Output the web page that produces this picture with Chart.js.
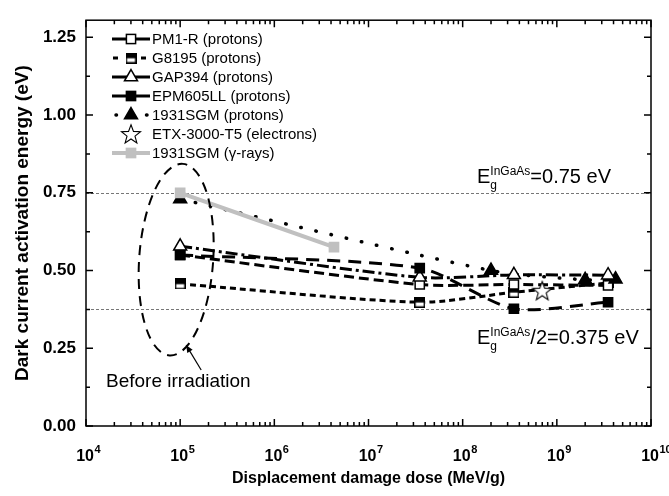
<!DOCTYPE html>
<html><head><meta charset="utf-8">
<script src="https://cdn.jsdelivr.net/npm/chart.js@4/dist/chart.umd.min.js"></script>
<style>html,body{margin:0;padding:0;background:#fff}#wrap{width:669px;height:496px}</style>
</head><body><div id="wrap"><canvas id="c" width="669" height="496"></canvas></div>
<script>
// ---- data ----
const seriesNames = ['PM1-R (protons)','G8195 (protons)','GAP394 (protons)','EPM605LL (protons)','1931SGM (protons)','ETX-3000-T5 (electrons)','1931SGM (\u03b3-rays)'];
const pm1rDose = [1e5, 3.5e7, 3.5e8, 3.5e9];
const pm1rEnergy = [0.55, 0.455, 0.455, 0.452];
const g8195Dose = [1e5, 3.5e7, 3.5e8, 3.5e9];
const g8195Energy = [0.457, 0.398, 0.43, 0.46];
const gap394Dose = [1e5, 3.5e7, 3.5e8, 3.5e9];
const gap394Energy = [0.578, 0.478, 0.486, 0.485];
const epmDose = [1e5, 3.5e7, 3.5e8, 3.5e9];
const epmEnergy = [0.55, 0.508, 0.377, 0.398];
const sgmDose = [1e5, 2e8, 2e9, 4.2e9];
const sgmEnergy = [0.73, 0.50, 0.47, 0.472];
const etxDose = [7e8];
const etxEnergy = [0.435];
const sgmGammaDose = [1e5, 4.3e6];
const sgmGammaEnergy = [0.75, 0.575];
const bandGapLines = [0.75, 0.375];
const yTickValues = [0, 0.25, 0.5, 0.75, 1.0, 1.25];
const xTickExponents = [4, 5, 6, 7, 8, 9, 10];
const xTitle = 'Displacement damage dose (MeV/g)';
const yTitle = 'Dark current activation energy (eV)';

const FONT = '"Liberation Sans", Arial, Helvetica, sans-serif';
const pts = (xs, ys) => xs.map((v, i) => ({x: v, y: ys[i]}));

// custom marker images
function halfSquare() {
  const c = document.createElement('canvas'); c.width = 11; c.height = 11;
  const g = c.getContext('2d');
  g.fillStyle = '#fff'; g.fillRect(0.75, 0.75, 9.5, 9.5);
  g.fillStyle = '#000'; g.fillRect(0.75, 0.75, 9.5, 5);
  g.strokeStyle = '#000'; g.lineWidth = 1.5; g.strokeRect(0.75, 0.75, 9.5, 9.5);
  return c;
}
function openStar() {
  const c = document.createElement('canvas'); c.width = 22; c.height = 22;
  const g = c.getContext('2d');
  g.beginPath();
  for (let k = 0; k < 10; k++) {
    const r = k % 2 ? 4.2 : 10;
    const a = -Math.PI / 2 + k * Math.PI / 5;
    const px = 11 + r * Math.cos(a), py = 11.8 + r * Math.sin(a);
    k ? g.lineTo(px, py) : g.moveTo(px, py);
  }
  g.closePath(); g.fillStyle = '#fff'; g.fill();
  g.strokeStyle = '#000'; g.lineWidth = 1.1; g.stroke();
  return c;
}
const halfSqImg = halfSquare();
const starImg = openStar();

const styles = [
  {pointStyle: 'rect', fill: '#fff', radius: 6.5, dash: [10, 5], legendDash: [], width: 3, color: '#000', order: 5},
  {pointStyle: halfSqImg, fill: '#000', radius: 6, dash: [6, 4], legendDash: [5, 9], width: 3, color: '#000', order: 6},
  {pointStyle: 'triangle', fill: '#fff', radius: 7.5, dash: [12, 4, 3, 4], legendDash: [], width: 3, color: '#000', order: 3},
  {pointStyle: 'rect', fill: '#000', radius: 6.5, dash: [13, 8], legendDash: [], width: 3, color: '#000', order: 2},
  {pointStyle: 'triangle', fill: '#000', radius: 7.5, dash: [0.5, 15], legendDash: [0.5, 30], width: 3.5, color: '#000', order: 4, cap: 'round'},
  {pointStyle: starImg, fill: '#fff', radius: 9, dash: [], legendDash: null, width: 0, color: '#000', order: 1},
  {pointStyle: 'rect', fill: '#c0c0c0', radius: 6.5, dash: [], legendDash: [], width: 4, color: '#c0c0c0', order: 0}
];
const seriesData = [
  pts(pm1rDose, pm1rEnergy), pts(g8195Dose, g8195Energy), pts(gap394Dose, gap394Energy),
  pts(epmDose, epmEnergy), pts(sgmDose, sgmEnergy), pts(etxDose, etxEnergy), pts(sgmGammaDose, sgmGammaEnergy)
];

const datasets = seriesNames.map((name, i) => {
  const s = styles[i];
  return {
    label: name, data: seriesData[i], order: s.order,
    borderColor: s.color, borderWidth: s.width, borderDash: s.dash,
    borderCapStyle: s.cap || 'butt', showLine: s.width > 0, tension: 0.25,
    pointStyle: s.pointStyle, pointRadius: s.radius, pointHoverRadius: s.radius,
    pointBackgroundColor: s.fill, pointBorderColor: s.color, pointBorderWidth: 1.5
  };
});

function drawMarker(ctx, s, x, y) {
  ctx.save();
  ctx.setLineDash([]);
  ctx.fillStyle = s.fill; ctx.strokeStyle = s.color; ctx.lineWidth = 1.5;
  if (typeof s.pointStyle !== 'string') {
    ctx.drawImage(s.pointStyle, x - s.pointStyle.width / 2, y - s.pointStyle.height / 2);
  } else if (s.pointStyle === 'rect') {
    const h = s.radius * Math.SQRT1_2;
    ctx.fillRect(x - h, y - h, 2 * h, 2 * h); ctx.strokeRect(x - h, y - h, 2 * h, 2 * h);
  } else {
    const r = s.radius; ctx.beginPath();
    for (let k = 0; k < 3; k++) {
      const a = k * 2 * Math.PI / 3;
      const px = x + Math.sin(a) * r, py = y - Math.cos(a) * r;
      k ? ctx.lineTo(px, py) : ctx.moveTo(px, py);
    }
    ctx.closePath(); ctx.fill(); ctx.stroke();
  }
  ctx.restore();
}

function drawEg(ctx, x, base, suffix) {
  ctx.fillStyle = '#000'; ctx.textBaseline = 'alphabetic'; ctx.textAlign = 'left';
  ctx.font = '20px ' + FONT; ctx.fillText('E', x, base);
  const wE = ctx.measureText('E').width;
  ctx.font = '12px ' + FONT;
  ctx.fillText('InGaAs', x + wE, base - 8);
  ctx.fillText('g', x + wE, base + 6);
  const wS = ctx.measureText('InGaAs').width;
  ctx.font = '20px ' + FONT; ctx.fillText(suffix, x + wE + wS, base);
}

const deco = {
  id: 'deco',
  beforeDatasetsDraw(chart) {
    const {ctx, chartArea: a, scales: {y}} = chart;
    ctx.save(); ctx.strokeStyle = '#777'; ctx.lineWidth = 1; ctx.setLineDash([3, 2]);
    bandGapLines.forEach(v => {
      const py = Math.round(y.getPixelForValue(v)) + 0.5;
      ctx.beginPath(); ctx.moveTo(a.left, py); ctx.lineTo(a.right, py); ctx.stroke();
    });
    ctx.restore();
  },
  afterDatasetsDraw(chart) {
    const {ctx, chartArea: a, scales: {x, y}} = chart;
    ctx.save();
    // dashed ellipse around pre-irradiation points
    const cx = x.getPixelForValue(1e5) - 4, cy = y.getPixelForValue(0.535);
    ctx.strokeStyle = '#000'; ctx.lineWidth = 2; ctx.setLineDash([10, 7]);
    ctx.beginPath(); ctx.ellipse(cx, cy, 37, 96, 0.07, 0, Math.PI * 2); ctx.stroke();
    ctx.setLineDash([]);
    // arrow
    const ax0 = cx + 25, ay0 = y.getPixelForValue(0.18), ax1 = cx + 10, ay1 = y.getPixelForValue(0.26);
    ctx.lineWidth = 1.2; ctx.beginPath(); ctx.moveTo(ax0, ay0); ctx.lineTo(ax1, ay1); ctx.stroke();
    const ang = Math.atan2(ay1 - ay0, ax1 - ax0);
    ctx.beginPath(); ctx.moveTo(ax1, ay1);
    ctx.lineTo(ax1 - 8 * Math.cos(ang - 0.4), ay1 - 8 * Math.sin(ang - 0.4));
    ctx.lineTo(ax1 - 8 * Math.cos(ang + 0.4), ay1 - 8 * Math.sin(ang + 0.4));
    ctx.closePath(); ctx.fillStyle = '#000'; ctx.fill();
    ctx.font = '19px ' + FONT; ctx.textAlign = 'left'; ctx.textBaseline = 'alphabetic';
    ctx.fillText('Before irradiation', 106, y.getPixelForValue(0.125));
    // band-gap annotations
    drawEg(ctx, 477, y.getPixelForValue(0.75) - 10, '=0.75 eV');
    drawEg(ctx, 477, y.getPixelForValue(0.375) + 35, '/2=0.375 eV');
    // legend
    seriesNames.forEach((name, i) => {
      const s = styles[i], ly = 39 + i * 19;
      if (s.legendDash) {
        ctx.save(); ctx.strokeStyle = s.color; ctx.lineWidth = s.width;
        ctx.lineCap = s.cap || 'butt'; ctx.setLineDash(s.legendDash);
        ctx.lineDashOffset = s.cap ? -4 : (s.legendDash.length ? -1 : 0);
        ctx.beginPath(); ctx.moveTo(112, ly); ctx.lineTo(150, ly); ctx.stroke(); ctx.restore();
      }
      drawMarker(ctx, s, 131, ly);
      ctx.fillStyle = '#000'; ctx.font = '15px ' + FONT; ctx.textBaseline = 'middle'; ctx.textAlign = 'left';
      ctx.fillText(name, 152, ly + 1);
    });
    // frame and inward ticks
    ctx.strokeStyle = '#000'; ctx.lineWidth = 1.5;
    ctx.strokeRect(a.left, a.top, a.right - a.left, a.bottom - a.top);
    ctx.beginPath();
    for (let d = 4; d <= 10; d++) {
      for (let m = 1; m <= 9; m++) {
        const v = m * Math.pow(10, d);
        if (v > 1e10 * 1.0001) break;
        const px = x.getPixelForValue(v), len = m === 1 ? 7 : 4;
        ctx.moveTo(px, a.bottom); ctx.lineTo(px, a.bottom - len);
        ctx.moveTo(px, a.top); ctx.lineTo(px, a.top + len);
      }
    }
    for (let v = 0; v <= 1.3; v += 0.125) {
      const py = y.getPixelForValue(v), major = Math.abs(v / 0.25 - Math.round(v / 0.25)) < 1e-6, len = major ? 7 : 4;
      ctx.moveTo(a.left, py); ctx.lineTo(a.left + len, py);
      ctx.moveTo(a.right, py); ctx.lineTo(a.right - len, py);
    }
    ctx.stroke();
    // x tick labels 10^n
    ctx.fillStyle = '#000'; ctx.textBaseline = 'alphabetic';
    xTickExponents.forEach(e => {
      const px = x.getPixelForValue(Math.pow(10, e));
      ctx.font = 'bold 16px ' + FONT; ctx.textAlign = 'right'; ctx.fillText('10', px + 8, a.bottom + 35);
      ctx.font = 'bold 11px ' + FONT; ctx.textAlign = 'left'; ctx.fillText(String(e), px + 8.5, a.bottom + 27);
    });
    ctx.restore();
  }
};

new Chart(document.getElementById('c'), {
  type: 'line',
  data: {datasets},
  options: {
    responsive: false, animation: false, events: [],
    layout: {padding: {top: 12, right: 18, left: 0, bottom: 0}},
    plugins: {legend: {display: false}, tooltip: {enabled: false}},
    scales: {
      x: {
        type: 'logarithmic', min: 1e4, max: 1e10,
        afterFit: s => { s.height = 70; },
        ticks: {display: false}, grid: {display: false, drawTicks: false}, border: {display: false},
        title: {display: true, text: xTitle, color: '#000', font: {family: FONT, size: 16, weight: 'bold'}, padding: {top: 0, bottom: 8}}
      },
      y: {
        min: 0, max: 1.305,
        afterFit: s => { s.width = 86; },
        afterBuildTicks: s => { s.ticks = yTickValues.map(v => ({value: v})); },
        ticks: {color: '#000', padding: 10, font: {family: FONT, size: 17, weight: 'bold'}, callback: v => Number(v).toFixed(2)},
        grid: {display: false, drawTicks: false}, border: {display: false},
        title: {display: true, text: yTitle, color: '#000', font: {family: FONT, size: 19, weight: 'bold'}, padding: {top: 11, bottom: 0}}
      }
    }
  },
  plugins: [deco]
});
</script>
</body></html>
